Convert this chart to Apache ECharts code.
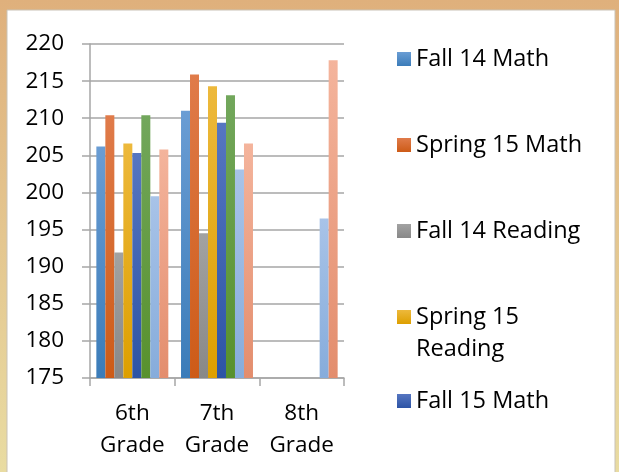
<!DOCTYPE html>
<html>
<head>
<meta charset="utf-8">
<script src="https://cdn.jsdelivr.net/npm/echarts@6/dist/echarts.min.js"></script>
<style>
  html, body { margin: 0; padding: 0; }
  #chart { width: 619px; height: 472px; }
</style>
</head>
<body>
<div id="chart"></div>
<script>
var grades = ["6th Grade", "7th Grade", "8th Grade"];
var yTicks = [175, 180, 185, 190, 195, 200, 205, 210, 215, 220];

var fall14Math = [206.2, 211.0, null];
var spring15Math = [210.4, 215.9, null];
var fall14Reading = [191.9, 194.5, null];
var spring15Reading = [206.6, 214.3, null];
var fall15Math = [205.3, 209.4, null];
var spring16Math = [210.4, 213.1, null];
var fall15Reading = [199.5, 203.1, 196.5];
var spring16Reading = [205.8, 206.6, 217.8];

var seriesNames = [
  "Fall 14 Math", "Spring 15 Math", "Fall 14 Reading", "Spring 15 Reading",
  "Fall 15 Math", "Spring 16 Math", "Fall 15 Reading", "Spring 16 Reading",
];
var seriesData = [
  fall14Math, spring15Math, fall14Reading, spring15Reading,
  fall15Math, spring16Math, fall15Reading, spring16Reading,
];
// legend only shows the first five entries (rest are cut off in the original)
var legendNames = seriesNames.slice(0, 5);

var topColors = ["#6a9dd4", "#e07b4a", "#a2a2a2", "#edb93c", "#5676c1", "#72a75c", "#a8c3e8", "#f4b49c"];
var bottomColors = ["#3b7cb9", "#cd5b17", "#888888", "#dd9f00", "#2d54a5", "#58912d", "#86acdb", "#e38d6d"];

var font = "'Open Sans', 'DejaVu Sans', sans-serif";

function barColor(i) {
  return new echarts.graphic.LinearGradient(0, 0, 0, 1, [
    { offset: 0, color: topColors[i] },
    { offset: 1, color: bottomColors[i] },
  ]);
}

// icon centre y for each legend entry
var legendCentres = [59, 145, 231, 317, 401];

function makeLegends() {
  return legendNames.map(function (name, i) {
    var twoLine = name === "Spring 15 Reading";
    return {
      show: true,
      orient: "vertical",
      left: 397,
      top: legendCentres[i] - (twoLine ? 48 : 16),
      padding: 0,
      icon: "rect",
      itemWidth: 14,
      itemHeight: 14,
      selectedMode: false,
      data: [name],
      formatter: function (n) {
        // blank first line so the icon sits next to "Spring 15"
        return n === "Spring 15 Reading" ? " \nSpring 15\nReading" : n;
      },
      textStyle: {
        fontFamily: font,
        fontSize: 23.5,
        lineHeight: 32,
        color: "#000",
      },
    };
  });
}

window.onload = function () {
  var myChart = echarts.init(document.getElementById("chart"));

  var option = {
    animation: false,
    backgroundColor: new echarts.graphic.LinearGradient(0, 0, 0, 1, [
      { offset: 0, color: "#dfb07c" },
      { offset: 1, color: "#e9dca2" },
    ]),
    graphic: [
      {
        type: "rect",
        z: -10,
        shape: { x: 7, y: 10, width: 608, height: 470 },
        style: { fill: "#ffffff", stroke: "#c9c2b6", lineWidth: 1 },
      },
    ],
    legend: makeLegends(),
    grid: { left: 90, top: 44, width: 254, height: 334, outerBoundsMode: "none", containLabel: false },
    xAxis: {
      type: "category",
      data: grades,
      axisLine: { lineStyle: { color: "#a6a6a6", width: 1.5 } },
      axisTick: { show: true, length: 8, lineStyle: { color: "#a6a6a6", width: 1.5 } },
      axisLabel: {
        margin: 20,
        fontFamily: font,
        fontSize: 22.5,
        lineHeight: 32,
        color: "#000",
        interval: 0,
        formatter: function (v) {
          return v.replace(" ", "\n");
        },
      },
    },
    yAxis: {
      type: "value",
      min: yTicks[0],
      max: yTicks[yTicks.length - 1],
      interval: yTicks[1] - yTicks[0],
      axisLine: { show: true, lineStyle: { color: "#a6a6a6", width: 1.5 } },
      axisTick: { show: true, length: 8, lineStyle: { color: "#a6a6a6", width: 1.5 } },
      splitLine: { lineStyle: { color: "#a6a6a6", width: 1.5 } },
      axisLabel: {
        margin: 26,
        fontFamily: font,
        fontSize: 22.5,
        color: "#000",
      },
    },
    series: seriesNames.map(function (name, i) {
      return {
        name: name,
        type: "bar",
        data: seriesData[i],
        barGap: "0%",
        barCategoryGap: "15%",
        itemStyle: { color: barColor(i) },
      };
    }),
  };

  myChart.setOption(option);
};
</script>
</body>
</html>
